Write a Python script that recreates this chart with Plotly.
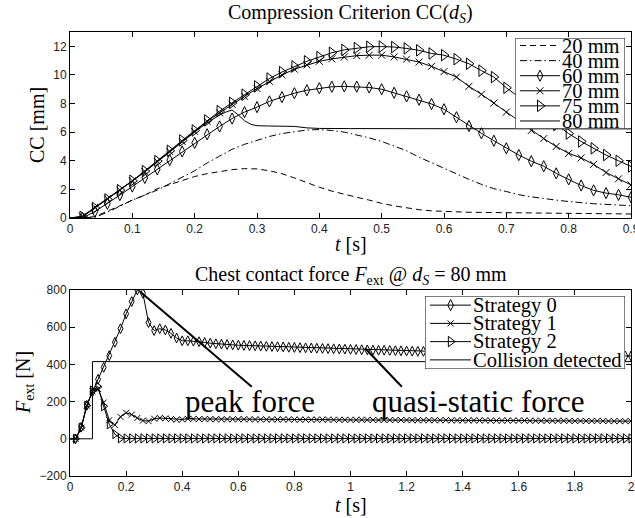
import plotly.graph_objects as go

# ---------------- data: Compression Criterion CC(d_S) ----------------
t_cc = [0.00, 0.02, 0.04, 0.06, 0.08, 0.10, 0.12, 0.14, 0.16, 0.18,
        0.20, 0.22, 0.24, 0.26, 0.28, 0.30, 0.32, 0.34, 0.36, 0.38,
        0.40, 0.42, 0.44, 0.46, 0.48, 0.50, 0.52, 0.54, 0.56, 0.58,
        0.60, 0.62, 0.64, 0.66, 0.68, 0.70, 0.72, 0.74, 0.76, 0.78,
        0.80, 0.82, 0.84, 0.86, 0.88, 0.90]
cc_20mm = [0, 0, 0.1, 0.45, 0.85, 1.25, 1.6, 2.05, 2.35, 2.65,
           2.9, 3.1, 3.25, 3.38, 3.45, 3.43, 3.3, 3.1, 2.8, 2.45,
           2.15, 1.88, 1.65, 1.45, 1.25, 1.02, 0.85, 0.7, 0.58, 0.5,
           0.45, 0.42, 0.4, 0.39, 0.38, 0.37, 0.36, 0.35, 0.34, 0.33,
           0.32, 0.31, 0.3, 0.29, 0.29, 0.28]
cc_40mm = [0, 0, 0.05, 0.4, 0.85, 1.25, 1.6, 1.95, 2.4, 2.85,
           3.3, 3.85, 4.35, 4.8, 5.15, 5.45, 5.7, 5.9, 6.05, 6.15,
           6.18, 6.12, 6.0, 5.82, 5.6, 5.35, 5.05, 4.7, 4.25, 3.85,
           3.45, 3.05, 2.7, 2.35, 2.05, 1.85, 1.63, 1.48, 1.35, 1.25,
           1.15, 1.06, 1.0, 0.95, 0.9, 0.86]
cc_60mm = [0, 0, 0.45, 1.0, 1.6, 2.2, 2.8, 3.4, 4.05, 4.65,
           5.25, 5.85, 6.4, 6.95, 7.4, 7.75, 8.15, 8.45, 8.72, 8.93,
           9.07, 9.17, 9.2, 9.18, 9.12, 9.0, 8.75, 8.5, 8.27, 7.97,
           7.6, 7.04, 6.43, 5.92, 5.4, 4.87, 4.4, 3.97, 3.62, 3.12,
           2.7, 2.27, 1.93, 1.74, 1.62, 1.45]
cc_70mm = [0, 0.12, 0.75, 1.35, 1.95, 2.6, 3.25, 3.95, 4.65, 5.35,
           6.05, 6.75, 7.35, 7.95, 8.5, 9.05, 9.55, 10.0, 10.4, 10.7,
           10.95, 11.12, 11.25, 11.35, 11.38, 11.38, 11.26, 11.1, 10.9, 10.6,
           10.23, 9.85, 9.2, 8.65, 8.03, 7.4, 6.75, 6.12, 5.55, 5.0,
           4.52, 4.2, 3.75, 3.18, 2.74, 2.31]
cc_75mm = [0, 0.08, 0.7, 1.3, 1.95, 2.6, 3.28, 3.98, 4.7, 5.42,
           6.12, 6.82, 7.47, 8.05, 8.62, 9.2, 9.75, 10.2, 10.6, 10.95,
           11.25, 11.55, 11.75, 11.88, 11.97, 11.98, 11.95, 11.85, 11.72, 11.5,
           11.38, 11.1, 10.78, 10.3, 9.85, 9.1, 8.45, 7.8, 7.15, 6.5,
           5.9, 5.35, 4.87, 4.4, 4.0, 3.6]
t_cc80 = [0.00, 0.02, 0.04, 0.06, 0.08, 0.10, 0.12, 0.14, 0.16, 0.18,
          0.20, 0.22, 0.24, 0.25, 0.26, 0.27, 0.28, 0.29, 0.30, 0.32,
          0.34, 0.36, 0.38, 0.40, 0.45, 0.50, 0.55, 0.60, 0.65, 0.70,
          0.75, 0.80, 0.85, 0.90]
cc_80mm = [0, 0.1, 0.72, 1.32, 1.95, 2.58, 3.22, 3.92, 4.62, 5.32,
           6.0, 6.65, 7.2, 7.4, 7.55, 7.2, 6.8, 6.55, 6.45, 6.43,
           6.44, 6.4, 6.3, 6.26, 6.25, 6.24, 6.24, 6.24, 6.24, 6.23,
           6.23, 6.23, 6.23, 6.23]
cc_labels = ["20 mm", "40 mm", "60 mm", "70 mm", "75 mm", "80 mm"]

# ---------------- data: chest contact force ----------------
t_f = [0.00, 0.02, 0.04, 0.06, 0.08, 0.10, 0.12, 0.14, 0.16, 0.18,
       0.20, 0.22, 0.24, 0.26, 0.28, 0.30, 0.32, 0.34, 0.36, 0.38,
       0.40, 0.42, 0.44, 0.46, 0.48, 0.50, 0.52, 0.54, 0.56, 0.58,
       0.60, 0.62, 0.64, 0.66, 0.68, 0.70, 0.72, 0.74, 0.76, 0.78,
       0.80, 0.82, 0.84, 0.86, 0.88, 0.90, 0.92, 0.94, 0.96, 0.98,
       1.00, 1.02, 1.04, 1.06, 1.08, 1.10, 1.12, 1.14, 1.16, 1.18,
       1.20, 1.22, 1.24, 1.26, 1.28, 1.30, 1.32, 1.34, 1.36, 1.38,
       1.40, 1.42, 1.44, 1.46, 1.48, 1.50, 1.52, 1.54, 1.56, 1.58,
       1.60, 1.62, 1.64, 1.66, 1.68, 1.70, 1.72, 1.74, 1.76, 1.78,
       1.80, 1.82, 1.84, 1.86, 1.88, 1.90, 1.92, 1.94, 1.96, 1.98,
       2.00]
f_strategy0 = [0, 0, 62, 180, 252, 320, 384, 447, 519, 592,
               672, 738, 800, 782, 625, 582, 592, 585, 567, 542,
               527, 527, 525, 522, 518, 514, 511, 509, 507, 505,
               503, 502, 501, 500, 499, 497, 496, 495, 494, 492,
               491, 490, 489, 488, 487, 486, 485, 484, 483, 482,
               481, 480, 479, 478, 477, 476, 476, 475, 474, 473,
               472, 471, 470, 470, 469, 468, 467, 467, 466, 465,
               465, 464, 463, 463, 462, 461, 461, 460, 459, 459,
               458, 457, 457, 456, 455, 455, 454, 453, 453, 452,
               451, 451, 450, 449, 449, 448, 447, 447, 446, 445,
               445]
f_strategy1 = [0, 0, 60, 178, 255, 268, 195, 100, 75, 118,
               140, 130, 112, 98, 95, 108, 112, 110, 106, 103,
               104, 107, 107, 106, 106, 106, 105, 105, 105, 105,
               105, 105, 105, 104, 104, 104, 104, 104, 104, 104,
               103, 103, 103, 103, 103, 103, 103, 102, 102, 102,
               102, 102, 102, 102, 101, 101, 101, 101, 101, 101,
               101, 100, 100, 100, 100, 100, 100, 100, 99, 99,
               99, 99, 99, 99, 99, 98, 98, 98, 98, 98,
               98, 98, 97, 97, 97, 97, 97, 97, 97, 96,
               96, 96, 96, 96, 96, 96, 95, 95, 95, 95,
               95]
f_strategy2 = [0, 0, 60, 178, 260, 280, 175, 78, 25, 3,
               2, 2, 2, 2, 2, 2, 2, 2, 2, 2,
               2, 2, 2, 2, 2, 2, 2, 2, 2, 2,
               2, 2, 2, 2, 2, 2, 2, 2, 2, 2,
               2, 2, 2, 2, 2, 2, 2, 2, 2, 2,
               2, 2, 2, 2, 2, 2, 2, 2, 2, 2,
               2, 2, 2, 2, 2, 2, 2, 2, 2, 2,
               2, 2, 2, 2, 2, 2, 2, 2, 2, 2,
               2, 2, 2, 2, 2, 2, 2, 2, 2, 2,
               2, 2, 2, 2, 2, 2, 2, 2, 2, 2,
               2]
t_collision = [0.0, 0.08, 2.0]
f_collision = [0, 415, 415]
force_labels = ["Strategy 0", "Strategy 1", "Strategy 2", "Collision detected"]

# annotation callouts (data coords of bottom panel)
callout_text = ["peak force", "quasi-static force"]
callout_pos = [(0.642, 200), (1.455, 200)]
pointer_lines = [((0.25, 790), (0.648, 280)), ((1.052, 487), (1.183, 280))]

# ---------------- layout helpers ----------------
# The figure is a little wider than the 635px window so that the right-most
# tick label ("0.9") is clipped by the window edge as in the reference.
W, H = 645, 518
ML, MR, MT, MB = 70, 14, 32, 42
PW, PH = W - ML - MR, H - MT - MB


def fx(p):
    return (p - ML) / PW


def fy(p):
    return (H - MB - p) / PH


SERIF = "Liberation Serif"
SANS = "Liberation Sans"
TXT = 20
LEG = 20.5

fig = go.Figure()


def add_series(x, y, xa, ya, dash=None, symbol=None, msize=8):
    fig.add_trace(go.Scatter(x=x, y=y, mode="lines", xaxis=xa, yaxis=ya,
                             line=dict(color="black", width=1, dash=dash),
                             showlegend=False, hoverinfo="skip"))
    if symbol:
        fig.add_trace(go.Scatter(x=x[1:], y=y[1:], mode="markers", xaxis=xa, yaxis=ya,
                                 marker=dict(symbol=symbol, size=msize, color="black",
                                             line=dict(color="black", width=1)),
                                 showlegend=False, hoverinfo="skip"))


DASH = "6px,4px"
DASHDOT = "7px,3px,1.5px,3px"

# top panel
add_series(t_cc, cc_20mm, "x", "y", dash=DASH)
add_series(t_cc, cc_40mm, "x", "y", dash=DASHDOT)
add_series(t_cc, cc_60mm, "x", "y", symbol="diamond-tall-open", msize=8)
add_series(t_cc, cc_70mm, "x", "y", symbol="x-thin-open", msize=7)
add_series(t_cc, cc_75mm, "x", "y", symbol="triangle-right-open", msize=10)
add_series(t_cc80, cc_80mm, "x", "y")

# bottom panel
add_series(t_f, f_strategy0, "x2", "y2", symbol="diamond-tall-open", msize=7)
add_series(t_f, f_strategy1, "x2", "y2", symbol="x-thin-open", msize=6)
add_series(t_f, f_strategy2, "x2", "y2", symbol="triangle-right-open", msize=8)
fig.add_trace(go.Scatter(x=t_collision, y=f_collision, mode="lines", xaxis="x2", yaxis="y2",
                         line=dict(color="black", width=1, shape="hv"),
                         showlegend=False, hoverinfo="skip"))

# ---------------- manual legends (aux axes) ----------------
top_styles = [(DASH, None, 0), (DASHDOT, None, 0), (None, "diamond-tall-open", 8),
              (None, "x-thin-open", 7), (None, "triangle-right-open", 10), (None, None, 0)]
bot_styles = [(None, "diamond-tall-open", 8), (None, "x-thin-open", 6),
              (None, "triangle-right-open", 9), (None, None, 0)]


def add_legend(xa, ya, labels, styles, x0, x1, xm, xt):
    n = len(labels)
    fig.add_trace(go.Scatter(x=[0, 1, 1, 0, 0], y=[0, 0, n, n, 0], mode="lines",
                             fill="toself", fillcolor="white",
                             line=dict(color="black", width=1), xaxis=xa, yaxis=ya,
                             showlegend=False, hoverinfo="skip"))
    for i, (lab, (dash, sym, ms)) in enumerate(zip(labels, styles)):
        yy = n - i - 0.5
        fig.add_trace(go.Scatter(x=[x0, x1], y=[yy, yy], mode="lines", xaxis=xa, yaxis=ya,
                                 line=dict(color="black", width=1, dash=dash),
                                 showlegend=False, hoverinfo="skip"))
        if sym:
            fig.add_trace(go.Scatter(x=[xm], y=[yy], mode="markers", xaxis=xa, yaxis=ya,
                                     marker=dict(symbol=sym, size=ms, color="black",
                                                 line=dict(color="black", width=1)),
                                     showlegend=False, hoverinfo="skip"))
        fig.add_annotation(x=xt, y=yy, xref=xa, yref=ya, text=lab, showarrow=False,
                           xanchor="left", yanchor="middle", borderpad=0,
                           font=dict(family=SERIF, size=LEG, color="black"))


add_legend("x3", "y3", cc_labels, top_styles, 0.041, 0.406, 0.224, 0.415)
add_legend("x4", "y4", force_labels, bot_styles, 0.025, 0.23, 0.128, 0.235)

axis_common = dict(showline=True, linecolor="black", linewidth=1, mirror="ticks",
                   ticks="inside", ticklen=5, tickwidth=1, tickcolor="black",
                   showgrid=False, zeroline=False, automargin=False,
                   tickfont=dict(family=SANS, size=12, color="#222"))
aux_axis = dict(visible=False, showgrid=False, zeroline=False, fixedrange=True)

fig.update_layout(
    width=W, height=H, margin=dict(l=ML, r=MR, t=MT, b=MB, pad=0),
    paper_bgcolor="white", plot_bgcolor="white", showlegend=False,
    xaxis=dict(domain=[0, 1], range=[0, 0.9], dtick=0.1, tick0=0, anchor="y", **axis_common),
    yaxis=dict(domain=[fy(218), 1], range=[0, 13], dtick=2, tick0=0, anchor="x", **axis_common),
    xaxis2=dict(domain=[0, 1], range=[0, 2], dtick=0.2, tick0=0, anchor="y2", **axis_common),
    yaxis2=dict(domain=[0, fy(290)], range=[-200, 800], dtick=200, tick0=0, anchor="x2", **axis_common),
    xaxis3=dict(domain=[fx(515.5), fx(625)], range=[0, 1], anchor="y3", **aux_axis),
    yaxis3=dict(domain=[fy(128.5), fy(38)], range=[0, 6], anchor="x3", **aux_axis),
    xaxis4=dict(domain=[fx(425), fx(625)], range=[0, 1], anchor="y4", **aux_axis),
    yaxis4=dict(domain=[fy(369), fy(296)], range=[0, 4], anchor="x4", **aux_axis),
)

title_font = dict(family=SERIF, size=TXT, color="black")
texts = [
    ("Compression Criterion CC(<i>d</i><sub><i>S</i></sub>)", 0.5, fy(14), 0),
    ("Chest contact force <i>F</i><sub>ext</sub> @ <i>d</i><sub><i>S</i></sub> = 80 mm", 0.5, fy(275), 0),
    ("<i>t</i> [s]", 0.5, fy(244), 0),
    ("<i>t</i> [s]", 0.5, fy(505), 0),
    ("CC [mm]", fx(37), fy(125), -90),
    ("<i>F</i><sub>ext</sub> [N]", fx(24), fy(383), -90),
]
for txt, x, y, ang in texts:
    fig.add_annotation(x=x, y=y, xref="paper", yref="paper", text=txt, showarrow=False,
                       xanchor="center", yanchor="middle", textangle=ang, font=title_font)

for txt, (cx, cy) in zip(callout_text, callout_pos):
    fig.add_annotation(x=cx, y=cy, xref="x2", yref="y2", text=txt, showarrow=False,
                       xanchor="center", yanchor="middle",
                       font=dict(family=SERIF, size=31, color="black"))
for (p0, p1) in pointer_lines:
    fig.add_shape(type="line", xref="x2", yref="y2", x0=p0[0], y0=p0[1], x1=p1[0], y1=p1[1],
                  line=dict(color="black", width=2))

fig.write_html("out.html", config={"displayModeBar": False},
               post_script="document.body.style.margin='0';document.body.style.overflow='hidden';")
